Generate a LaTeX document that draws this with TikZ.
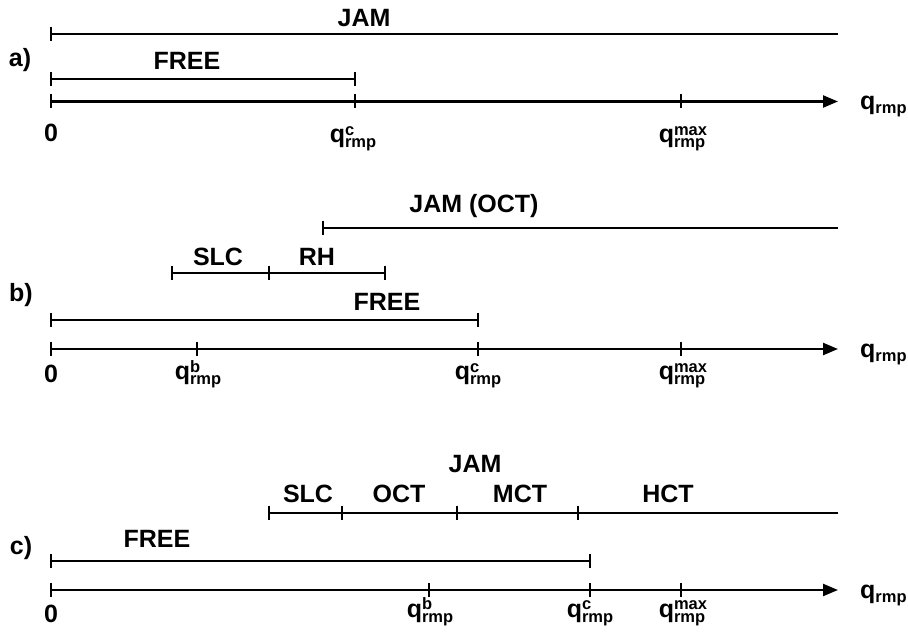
\documentclass[tikz,border=0pt]{standalone}
\usepackage{fontspec}
\setmainfont{Liberation Sans}
\usetikzlibrary{arrows.meta}
\newcommand{\bigf}{\fontsize{25}{25}\selectfont\bfseries}
\newcommand{\smallf}{\fontsize{16.5}{16.5}\selectfont\bfseries}
\newcommand{\ql}[1]{q\rlap{\raisebox{7.5pt}{\smallf #1}}\raisebox{-5pt}{\smallf rmp}}
\newcommand{\qaxis}{q\raisebox{-4pt}{\smallf rmp}}
\begin{document}
\begin{tikzpicture}[x=1pt,y=-1pt,
  bar/.style={line width=2.3pt},
  axisline/.style={line width=2.3pt,-{Triangle[length=15pt,width=12pt]}},
  lbl/.style={anchor=base,inner sep=0pt,font=\bigf},
  endlbl/.style={anchor=base west,inner sep=0pt,font=\bigf}]
\useasboundingbox (0,0) rectangle (908,636);
\newcommand{\tick}[1]{\draw[line width=2.1pt] ([yshift=7pt]#1) -- ([yshift=-7pt]#1);}
% ---------- a)
\node[lbl] (la) at (20,67) {a)};
\coordinate (aJ0) at (51,34); \coordinate (aJ1) at (838,34);
\draw[bar] (aJ0) -- (aJ1); \tick{aJ0}
\node[lbl] (aJam) at (364,27) {JAM};
\coordinate (aF0) at (51,79); \coordinate (aF1) at (355,79);
\draw[bar] (aF0) -- (aF1); \tick{aF0} \tick{aF1}
\node[lbl] (aFree) at (187,70) {FREE};
\coordinate (aA0) at (51,101.5); \coordinate (aAc) at (355,101.5);
\coordinate (aAm) at (681,101.5); \coordinate (aA1) at (838,101.5);
\draw[axisline] (aA0) -- (aA1); \tick{aA0} \tick{aAc} \tick{aAm}
\node[lbl] (a0) at (51,142) {0};
\node[lbl] (aqc) at (353,143) {\ql{c}};
\node[lbl] (aqm) at (682,143) {\ql{max}};
\node[endlbl] (aq) at (860,110) {\qaxis};
% ---------- b)
\node[lbl] (lb) at (21,302) {b)};
\coordinate (bJ0) at (323,228); \coordinate (bJ1) at (838,228);
\draw[bar] (bJ0) -- (bJ1); \tick{bJ0}
\node[lbl] (bJam) at (474,213) {JAM (OCT)};
\coordinate (bS0) at (172,273); \coordinate (bS1) at (269,273); \coordinate (bS2) at (385,273);
\draw[bar] (bS0) -- (bS2); \tick{bS0} \tick{bS1} \tick{bS2}
\node[lbl] (bSlc) at (218,266) {SLC};
\node[lbl] (bRh) at (317,266) {RH};
\coordinate (bF0) at (51,320); \coordinate (bF1) at (478,320);
\draw[bar] (bF0) -- (bF1); \tick{bF0} \tick{bF1}
\node[lbl] (bFree) at (387,311) {FREE};
\coordinate (bA0) at (51,349); \coordinate (bAb) at (197,349); \coordinate (bAc) at (478,349);
\coordinate (bAm) at (681,349); \coordinate (bA1) at (838,349);
\draw[axisline] (bA0) -- (bA1); \tick{bA0} \tick{bAb} \tick{bAc} \tick{bAm}
\node[lbl] (b0) at (51,382) {0};
\node[lbl] (bqb) at (198,380) {\ql{b}};
\node[lbl] (bqc) at (478,380) {\ql{c}};
\node[lbl] (bqm) at (682,380) {\ql{max}};
\node[endlbl] (bq) at (860,357.5) {\qaxis};
% ---------- c)
\node[lbl] (lc) at (21,554) {c)};
\node[lbl] (cJam) at (475,472) {JAM};
\coordinate (cJ0) at (269,512.7); \coordinate (cJ1) at (342,512.7); \coordinate (cJ2) at (457,512.7);
\coordinate (cJ3) at (578,512.7); \coordinate (cJ4) at (838,512.7);
\draw[bar] (cJ0) -- (cJ4); \tick{cJ0} \tick{cJ1} \tick{cJ2} \tick{cJ3}
\node[lbl] (cSlc) at (308,502) {SLC};
\node[lbl] (cOct) at (399,502) {OCT};
\node[lbl] (cMct) at (520,502) {MCT};
\node[lbl] (cHct) at (668,502) {HCT};
\coordinate (cF0) at (51,561); \coordinate (cF1) at (590,561);
\draw[bar] (cF0) -- (cF1); \tick{cF0} \tick{cF1}
\node[lbl] (cFree) at (157,547) {FREE};
\coordinate (cA0) at (51,590); \coordinate (cAb) at (429,590); \coordinate (cAc) at (590,590);
\coordinate (cAm) at (681,590); \coordinate (cA1) at (838,590);
\draw[axisline] (cA0) -- (cA1); \tick{cA0} \tick{cAb} \tick{cAc} \tick{cAm}
\node[lbl] (c0) at (51,622) {0};
\node[lbl] (cqb) at (430,617) {\ql{b}};
\node[lbl] (cqc) at (590,617) {\ql{c}};
\node[lbl] (cqm) at (682,617) {\ql{max}};
\node[endlbl] (cq) at (860,598.5) {\qaxis};
\end{tikzpicture}
\end{document}
